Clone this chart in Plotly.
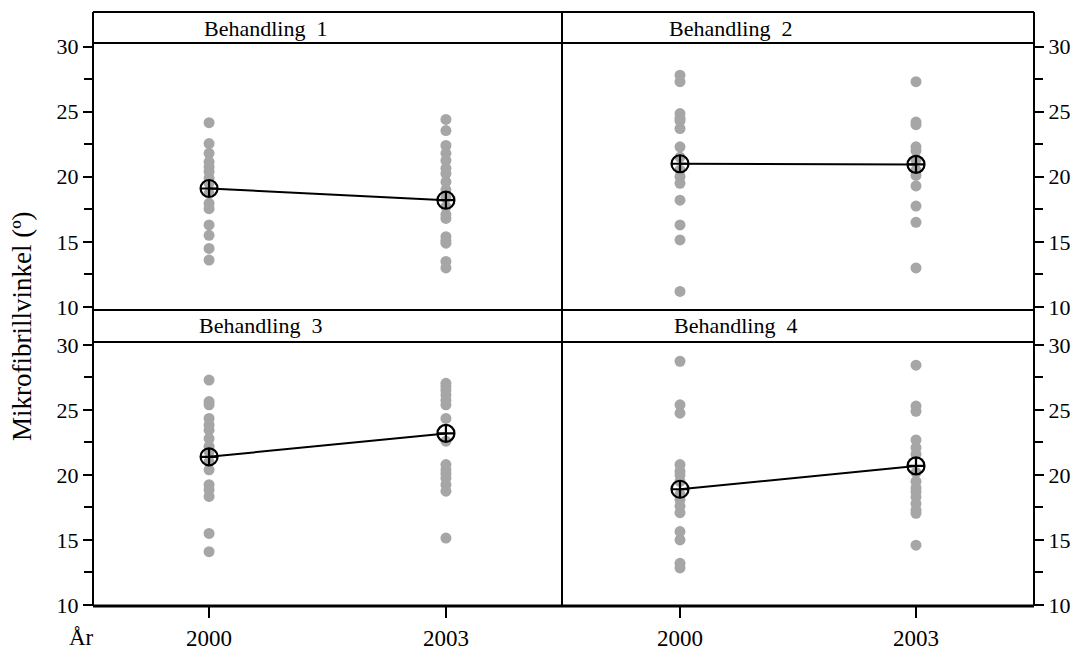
import plotly.graph_objects as go

# ---------------- data ----------------
years = [2000, 2003]
panel_titles = ["Behandling  1", "Behandling  2", "Behandling  3", "Behandling  4"]

b1_2000 = [24.15, 22.55, 21.8, 21.15, 20.75, 20.4, 19.9, 19.5, 18.7, 17.95, 17.55, 16.3, 15.5, 14.5, 13.6]
b1_2003 = [24.4, 23.55, 22.4, 21.8, 21.25, 20.65, 20.25, 19.6, 19.0, 18.4, 17.7, 17.1, 16.8, 15.4, 15.1, 14.9, 13.5, 13.0]
b2_2000 = [27.8, 27.3, 24.85, 24.5, 24.3, 23.7, 22.3, 21.5, 20.5, 20.0, 19.5, 18.2, 16.3, 15.15, 11.2]
b2_2003 = [27.3, 24.2, 24.0, 22.3, 22.0, 21.3, 20.5, 20.1, 19.3, 17.75, 16.5, 13.0]
b3_2000 = [27.3, 25.65, 25.4, 24.35, 23.85, 23.45, 22.8, 22.2, 21.8, 21.0, 20.4, 19.25, 18.85, 18.35, 15.5, 14.1]
b3_2003 = [27.05, 26.8, 26.5, 26.15, 25.75, 25.4, 24.35, 22.6, 20.8, 20.4, 20.1, 19.75, 19.25, 18.75, 15.15]
b4_2000 = [28.75, 25.4, 24.75, 20.8, 20.3, 20.0, 19.5, 18.5, 18.1, 17.6, 17.1, 15.65, 15.0, 13.2, 12.85]
b4_2003 = [28.45, 25.3, 24.9, 22.7, 22.1, 21.6, 20.2, 19.5, 19.0, 18.7, 18.3, 17.8, 17.3, 17.05, 14.6]

means_2000 = [19.1, 21.0, 21.4, 18.9]
means_2003 = [18.2, 20.95, 23.2, 20.7]

panels = [(b1_2000, b1_2003), (b2_2000, b2_2003), (b3_2000, b3_2003), (b4_2000, b4_2003)]

# ---------------- layout helpers ----------------
W, H = 1078, 650
def px(x):
    return x / W
def py(y):
    return 1 - y / H

FONT = "Liberation Serif"
GRAY = "#a6a6a6"

fig = go.Figure()

# panel geometry in pixels: (x0, x1, y_top, y_bottom, xrange, yrange, side)
geo = [
    (93, 562, 43, 310, [1998.53, 2004.47], [9.77, 30.27], "left"),
    (562, 1034, 43, 310, [1998.5, 2004.5], [9.77, 30.27], "right"),
    (93, 562, 342, 606, [1998.53, 2004.47], [9.92, 30.23], "left"),
    (562, 1034, 342, 606, [1998.5, 2004.5], [9.92, 30.23], "right"),
]

for i, ((v2000, v2003), g) in enumerate(zip(panels, geo)):
    n = i + 1
    xa = "x" if n == 1 else f"x{n}"
    ya = "y" if n == 1 else f"y{n}"
    xs = [years[0]] * len(v2000) + [years[1]] * len(v2003)
    ys = list(v2000) + list(v2003)
    fig.add_trace(go.Scatter(
        x=xs, y=ys, mode="markers", xaxis=xa, yaxis=ya,
        marker=dict(size=11, color=GRAY, line=dict(width=0)),
        showlegend=False, hoverinfo="skip"))
    fig.add_trace(go.Scatter(
        x=years, y=[means_2000[i], means_2003[i]], mode="lines+markers",
        xaxis=xa, yaxis=ya,
        line=dict(color="black", width=2),
        marker=dict(symbol="circle-cross-open", size=17, color="black",
                    line=dict(width=2.2, color="black")),
        showlegend=False, hoverinfo="skip"))

    x0, x1, yt, yb, xr, yr, side = g
    bottom = n in (3, 4)
    fig.layout[f"xaxis{'' if n == 1 else n}"] = dict(
        domain=[px(x0), px(x1)], range=xr, anchor=ya, automargin=False,
        showgrid=False, zeroline=False, showline=False,
        tickmode="array", tickvals=years if bottom else [],
        ticktext=[str(y) for y in years] if bottom else [],
        ticks="outside" if bottom else "", ticklen=11, tickwidth=2, tickcolor="black",
        showticklabels=bottom,
        tickfont=dict(family=FONT, size=23, color="black"),
        fixedrange=True)
    fig.layout[f"yaxis{'' if n == 1 else n}"] = dict(
        domain=[py(yb), py(yt)], range=yr, anchor=xa, side=side, automargin=False,
        showgrid=False, zeroline=False, showline=False,
        tickmode="linear", tick0=10, dtick=5,
        ticks="outside", ticklen=9, tickwidth=2, tickcolor="black",
        minor=dict(tickmode="linear", tick0=10, dtick=2.5, ticks="outside",
                   ticklen=8, tickwidth=2, tickcolor="black", showgrid=False),
        tickfont=dict(family=FONT, size=22, color="black"),
        fixedrange=True)

# ---------------- frame lines ----------------
shapes = []
def hline(y, x0=93, x1=1034, w=2):
    shapes.append(dict(type="line", xref="paper", yref="paper",
                       x0=px(x0), x1=px(x1), y0=py(y), y1=py(y),
                       line=dict(color="black", width=w)))
def vline(x, y0=12, y1=606, w=2):
    shapes.append(dict(type="line", xref="paper", yref="paper",
                       x0=px(x), x1=px(x), y0=py(y0), y1=py(y1),
                       line=dict(color="black", width=w)))

hline(12)
hline(43)
hline(310)
hline(342)
hline(606, w=3)
vline(93)
vline(562)
vline(1034)

annotations = []
title_x = [202, 667, 197, 672]
title_y = [28, 28, 326, 326]
for t, xx, yy in zip(panel_titles, title_x, title_y):
    annotations.append(dict(text=t, x=px(xx), y=py(yy), xref="paper", yref="paper",
                            xanchor="left", yanchor="middle", showarrow=False,
                            font=dict(family=FONT, size=22, color="black")))

annotations.append(dict(text="Mikrofibrillvinkel (º)", x=px(22), y=py(326),
                        xref="paper", yref="paper", textangle=-90,
                        xanchor="center", yanchor="middle", showarrow=False,
                        font=dict(family=FONT, size=27, color="black")))
annotations.append(dict(text="År", x=px(81), y=py(637), xref="paper", yref="paper",
                        xanchor="center", yanchor="middle", showarrow=False,
                        font=dict(family=FONT, size=23, color="black")))

fig.update_layout(
    width=W, height=H,
    margin=dict(l=0, r=0, t=0, b=0, pad=0, autoexpand=False),
    paper_bgcolor="white", plot_bgcolor="white",
    shapes=shapes, annotations=annotations,
    showlegend=False,
)

fig.write_html("out.html")
